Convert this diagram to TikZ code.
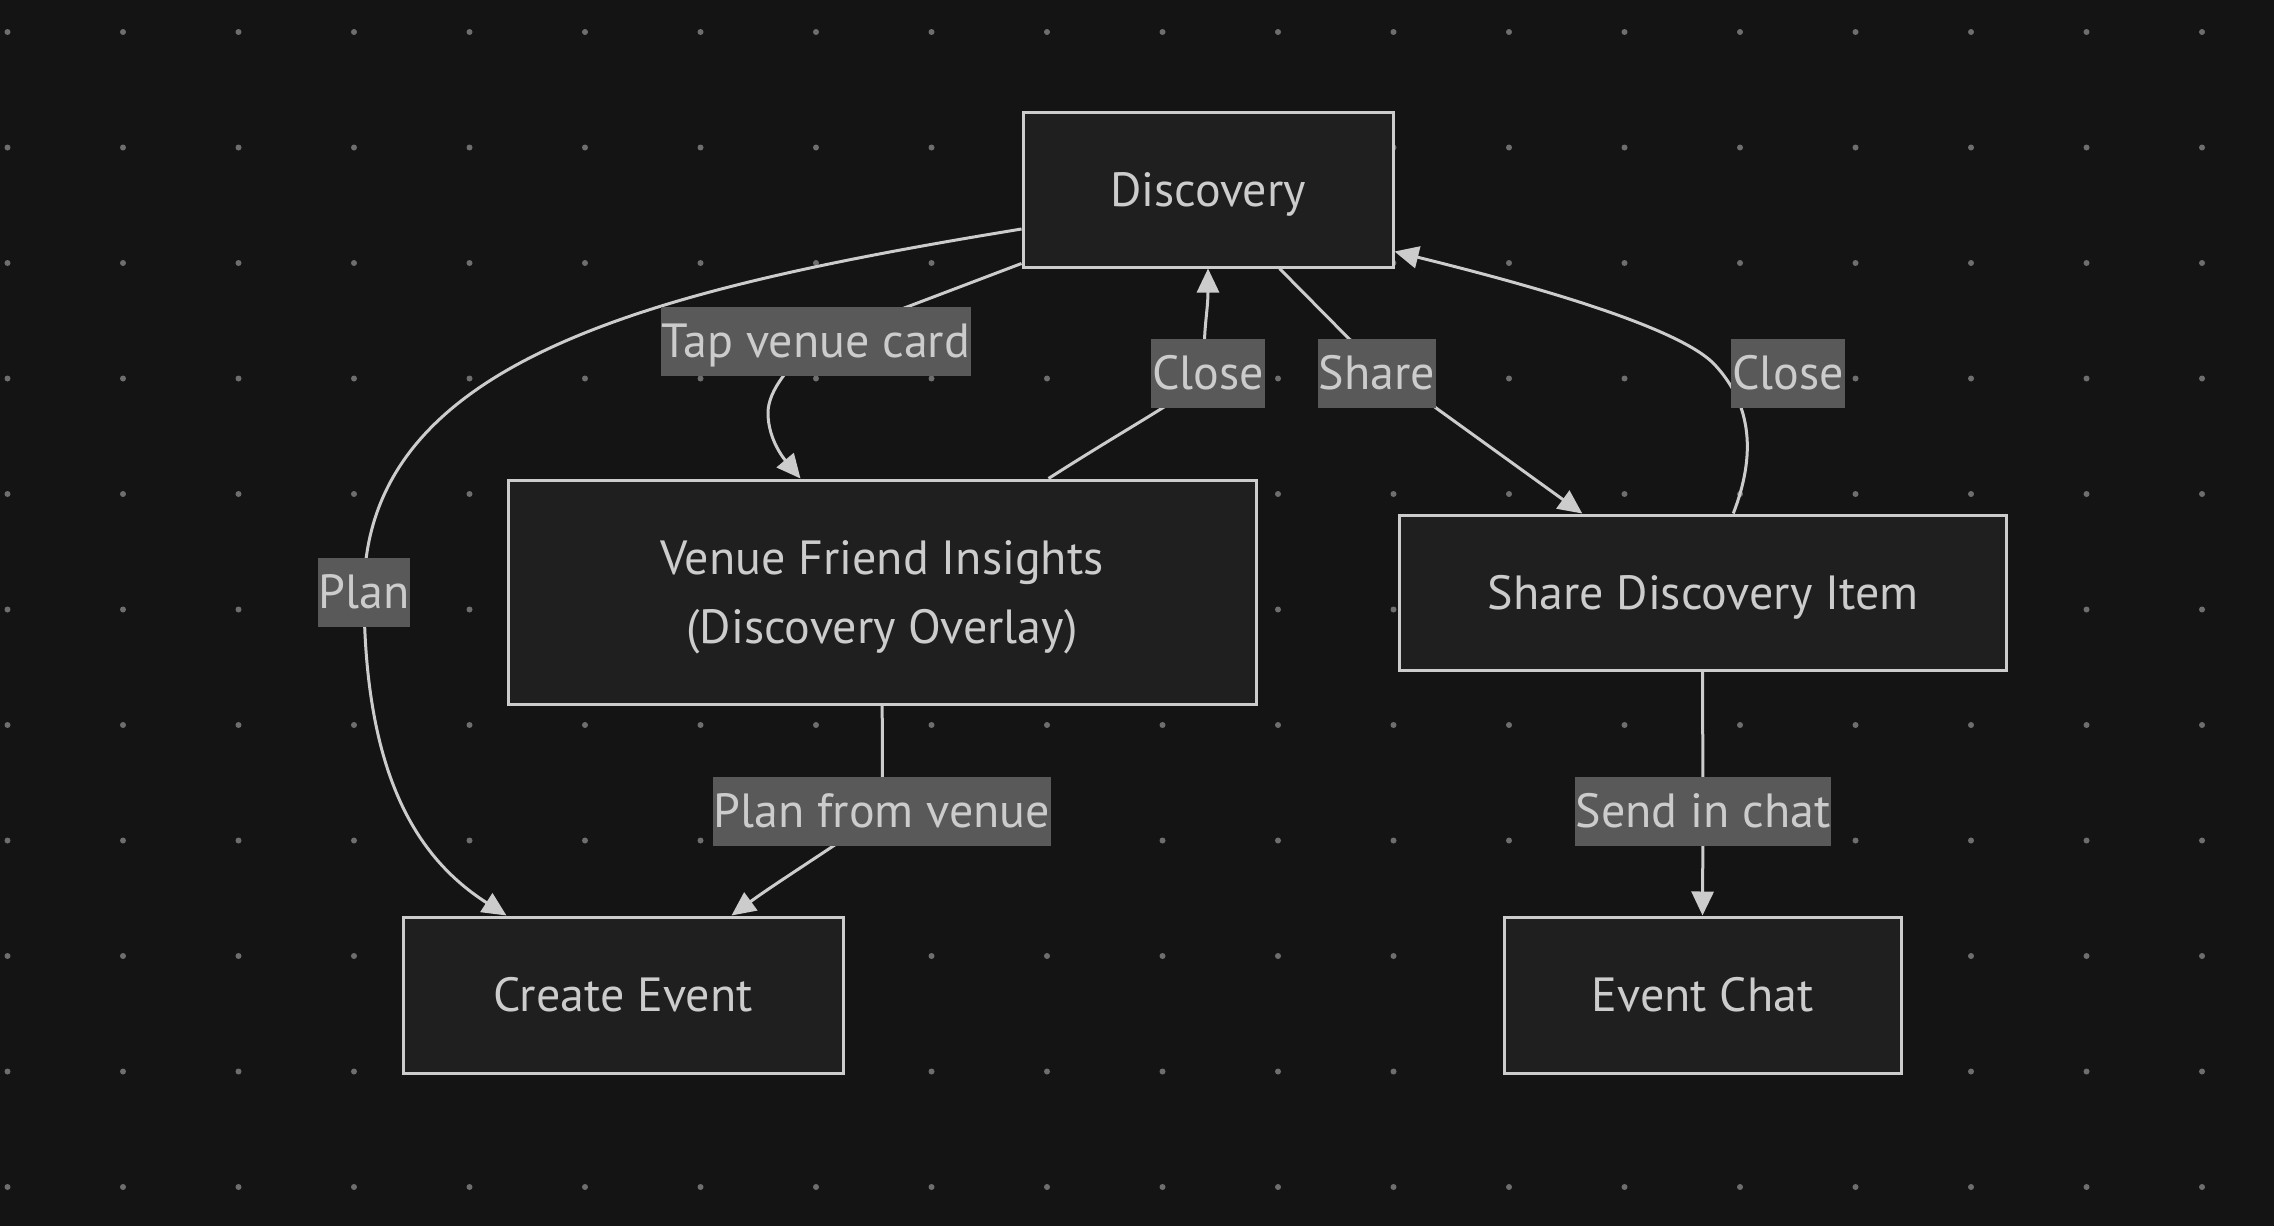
\documentclass[tikz,border=0pt]{standalone}
\usepackage{fontspec}
\setmainfont{PT Sans}
\usetikzlibrary{arrows.meta,calc}
\definecolor{bgc}{HTML}{141414}
\definecolor{nodefill}{HTML}{1F1F1F}
\definecolor{strokec}{HTML}{CCCCCC}
\definecolor{textc}{HTML}{CCCCCC}
\definecolor{lblbg}{HTML}{595959}
\definecolor{dotc}{HTML}{6E6E6E}
\pgfdeclarelayer{background}
\pgfsetlayers{background,main}
\begin{document}
\begin{tikzpicture}[x=1pt,y=-1pt,
  box/.style={draw=strokec, fill=nodefill, line width=3pt, text=textc,
    font=\fontsize{48}{69}\selectfont, align=center, inner sep=0pt},
  oneline/.style={text height=33pt, text depth=0pt},
  lbl/.style={fill=lblbg, text=textc, font=\fontsize{48}{58}\selectfont,
    inner xsep=1pt, inner ysep=0pt, minimum height=69pt,
    text height=32pt, text depth=0pt},
  edge/.style={draw=strokec, line width=3pt, -{Triangle[length=24pt,width=22pt]}}
]
\useasboundingbox (0,0) rectangle (2274,1226);

% nodes
\node[box, oneline, minimum width=370pt, minimum height=155pt] (disc) at (1208,189.5) {Discovery};
\node[box, text depth=0pt, minimum width=748pt, minimum height=224pt] (venue) at (882,592) {Venue Friend Insights\\ (Discovery Overlay)};
\node[box, oneline, minimum width=606.5pt, minimum height=155pt] (share) at (1703,592.5) {Share Discovery Item};
\node[box, oneline, minimum width=440pt, minimum height=156pt] (create) at (623,995) {Create Event};
\node[box, oneline, minimum width=397pt, minimum height=156pt] (chat) at (1702.5,995) {Event Chat};

% labels
\node[lbl] (lt) at (816,341.5) {Tap venue card};
\node[lbl] (lc1) at (1208,373.5) {Close};
\node[lbl] (ls) at (1377,373.5) {Share};
\node[lbl] (lc2) at (1788,373.5) {Close};
\node[lbl] (lp) at (364,592) {Plan};
\node[lbl] (lpv) at (882,811.5) {Plan from venue};
\node[lbl] (lsc) at (1703,811) {Send in chat};

\begin{pgfonlayer}{background}
\fill[bgc] (0,0) rectangle (2274,1226);
\foreach \i in {0,...,19} \foreach \j in {0,...,10}
  \fill[dotc] (7.5+115.5*\i, 32+115.5*\j) circle (3pt);

% Discovery -> Create Event (Plan)
\draw[edge] ($(disc.west)+(0,39.5)$) .. controls (650,290) and (364,360) .. (lp.center)
  .. controls (364,780) and (420,860) .. ($(create.north west)+(105,0)$);
% Discovery -> Venue (Tap venue card)
\draw[edge] ($(disc.south west)+(0,-5)$) -- (lt.center)
  .. controls (790,365) and (768,390) .. (768,413)
  .. controls (768,440) and (785,460) .. ($(venue.north west)+(294,0)$);
% Venue -> Discovery (Close)
\draw[edge] ($(venue.north west)+(542,0)$) .. controls (1140,420) and (1190,395) .. (lc1.center)
  .. controls (1200,345) and (1208,315) .. (disc.south);
% Discovery -> Share (Share)
\draw[edge] ($(disc.south west)+(258,0)$) -- ($(ls.north)+(-28,0)$) -- (ls.south east)
  -- ($(share.north west)+(184,0)$);
% Share -> Discovery (Close)
\draw[edge] ($(share.north west)+(335,0)$) .. controls (1756,455) and (1752,405) .. (1715,365)
  .. controls (1680,327) and (1530,285) .. ($(disc.south east)+(0,-17)$);
% Venue -> Create (Plan from venue)
\draw[edge] (venue.south) .. controls (883,750) and (882,780) .. (lpv.center)
  .. controls (845,840) and (780,880) .. ($(create.north west)+(330,0)$);
% Share -> Chat (Send in chat)
\draw[edge] (chat.north |- share.south) -- (lsc.center) -- (chat.north);
\end{pgfonlayer}
\end{tikzpicture}
\end{document}
